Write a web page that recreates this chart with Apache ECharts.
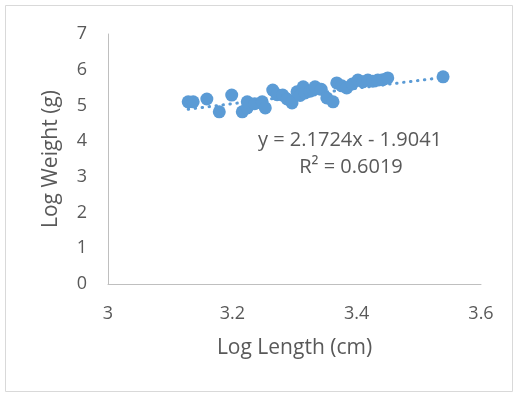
<!DOCTYPE html>
<html><head><meta charset="utf-8">
<script src="https://cdn.jsdelivr.net/npm/echarts@6/dist/echarts.min.js"></script>
<style>html,body{margin:0;padding:0;background:#fff}#c{width:518px;height:396px}</style>
</head><body><div id="c"></div>
<script>
const logLength = [3.129,3.137,3.159,3.179,3.199,3.216,3.224,3.224,3.236,3.248,3.253,3.265,3.272,3.281,3.288,3.296,3.304,3.309,3.314,3.317,3.325,3.330,3.333,3.343,3.352,3.362,3.368,3.376,3.384,3.393,3.402,3.410,3.418,3.426,3.434,3.442,3.450,3.539];
const logWeight = [5.10,5.10,5.18,4.82,5.29,4.82,4.93,5.10,5.05,5.10,4.93,5.43,5.30,5.29,5.18,5.07,5.38,5.28,5.52,5.35,5.40,5.43,5.52,5.45,5.21,5.10,5.63,5.55,5.49,5.60,5.71,5.66,5.71,5.68,5.71,5.72,5.77,5.80];
const slope = 2.1724, intercept = -1.9041;
const eqText = ['y = 2.1724x - 1.9041', 'R² = 0.6019'];
const xTicks = [3, 3.2, 3.4, 3.6];
const yTicks = [0,1,2,3,4,5,6,7];

const pts = logLength.map((x,i)=>[x, logWeight[i]]);
const xmin = Math.min(...logLength), xmax = Math.max(...logLength);
const trend = [[xmin, slope*xmin+intercept],[xmax, slope*xmax+intercept]];
const font = '"Open Sans", sans-serif';
const chart = echarts.init(document.getElementById('c'));
chart.setOption({
  animation:false,
  backgroundColor:'#fff',
  graphic:[{type:'rect',shape:{x:5.5,y:5.5,width:507,height:386},style:{fill:'none',stroke:'#D9D9D9',lineWidth:1}},
    {type:'text',x:350,y:130,style:{text:eqText[0],fill:'#595959',font:'20px '+font,align:'center',verticalAlign:'top'}},
    {type:'text',x:351,y:157,style:{text:eqText[1],fill:'#595959',font:'20px '+font,align:'center',verticalAlign:'top'}}],
  grid:{left:108,top:34,right:37,bottom:112},
  xAxis:{type:'value',min:3,max:3.6,interval:0.2,
    name:'Log Length (cm)',nameLocation:'middle',nameGap:54,
    nameTextStyle:{color:'#595959',fontSize:21,fontFamily:font},
    axisLine:{show:true,lineStyle:{color:'#BFBFBF',width:1}},axisTick:{show:false},splitLine:{show:false},
    axisLabel:{color:'#595959',fontSize:18,fontFamily:font,margin:21,
      formatter:v=>{const t=xTicks.find(t=>Math.abs(t-v)<1e-6);return t===undefined?'':String(t);}}},
  yAxis:{type:'value',min:0,max:7,interval:1,
    name:'Log Weight (g)',nameLocation:'middle',nameGap:46,
    nameTextStyle:{color:'#595959',fontSize:21,fontFamily:font},
    axisLine:{show:true,lineStyle:{color:'#BFBFBF',width:1}},axisTick:{show:false},splitLine:{show:false},
    axisLabel:{color:'#595959',fontSize:18,fontFamily:font,margin:21,formatter:v=>yTicks.includes(v)?String(v):''}},
  series:[
    {type:'scatter',data:pts,symbolSize:13,itemStyle:{color:'#5B9BD5',opacity:1},z:3},
    {type:'line',data:trend,symbol:'none',lineStyle:{color:'#5B9BD5',width:3,type:[0.5,6.5],cap:'round'},z:2}
  ]
});
</script></body></html>
